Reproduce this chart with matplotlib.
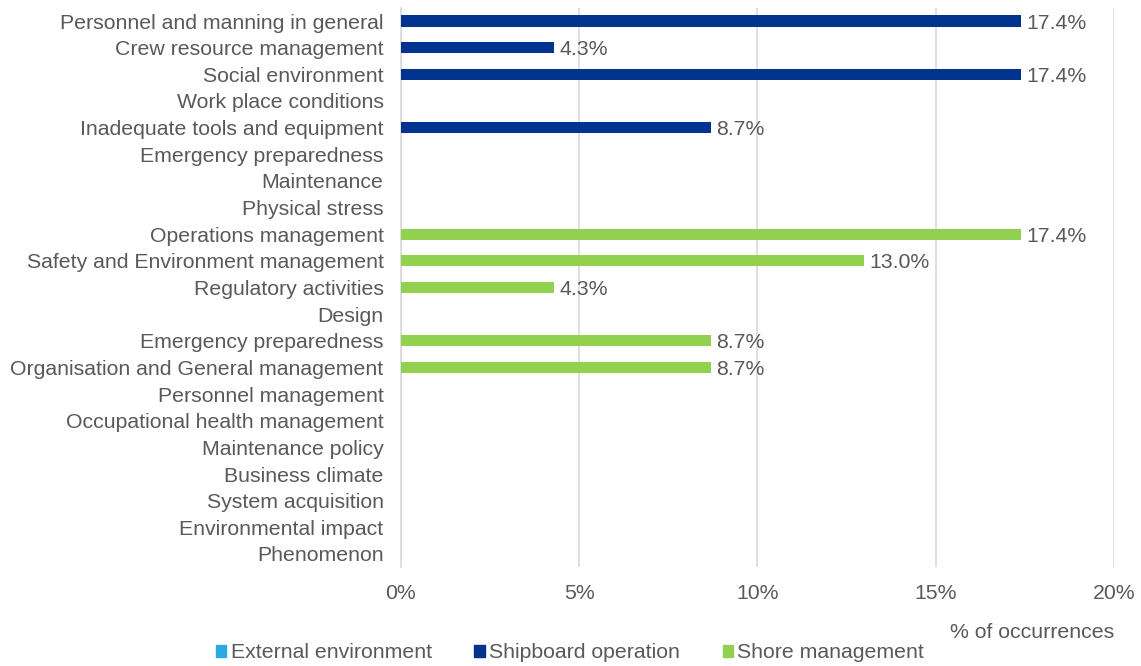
import numpy as np
from matplotlib import pyplot as plt
from matplotlib.patches import Patch

plt.rcParams['font.family'] = ['Liberation Sans', 'DejaVu Sans']

categories = ['Personnel and manning in general', 'Crew resource management',
              'Social environment', 'Work place conditions',
              'Inadequate tools and equipment', 'Emergency preparedness',
              'Maintenance', 'Physical stress', 'Operations management',
              'Safety and Environment management', 'Regulatory activities',
              'Design', 'Emergency preparedness',
              'Organisation and General management', 'Personnel management',
              'Occupational health management', 'Maintenance policy',
              'Business climate', 'System acquisition', 'Environmental impact',
              'Phenomenon']
external = [0] * 21
shipboard = [17.4, 4.3, 17.4, 0, 8.7, 0, 0, 0] + [0] * 13
shore = [0] * 8 + [17.4, 13.0, 4.3, 0, 8.7, 8.7, 0, 0, 0, 0, 0, 0, 0]
series = ['External environment', 'Shipboard operation', 'Shore management']
colors = ['#29ABE2', '#00338D', '#92D050']
txt = '#595959'
fs = 15.3

fig = plt.figure(figsize=(11.41, 6.66), dpi=100)
ax = fig.add_axes([0.3514, 0.1482, 0.6249, 0.8402])

y = np.arange(len(categories))
for vals, c in zip([external, shipboard, shore], colors):
    v = np.array(vals)
    ax.barh(y, v, height=0.42, color=c, zorder=3)
    for yi, vi in zip(y, v):
        if vi > 0:
            ax.text(vi + 0.15, yi + 0.08, f'{vi:.1f}%', va='center', ha='left',
                    fontsize=fs, color=txt)

ax.set_ylim(len(categories) - 0.5, -0.5)
ax.set_xlim(0, 20)
ax.set_yticks(y)
ax.set_yticklabels(categories, fontsize=fs, color=txt)
ax.set_xticks([0, 5, 10, 15, 20])
ax.set_xticklabels(['0%', '5%', '10%', '15%', '20%'], fontsize=fs, color=txt)
ax.tick_params(axis='both', length=0)
ax.tick_params(axis='x', pad=12)
ax.tick_params(axis='y', pad=12.5)
ax.grid(axis='x', color='#D9D9D9', linewidth=1.2, zorder=0)
for s in ['top', 'right', 'bottom']:
    ax.spines[s].set_visible(False)
ax.spines['left'].set_color('#D9D9D9')
ax.spines['left'].set_linewidth(1.2)

fig.text(1114 / 1141, 1 - 632 / 666, '% of occurrences', ha='right', va='center',
         fontsize=fs, color=txt)

handles = [Patch(color=c) for c in colors]
fig.legend(handles, series, loc='center', bbox_to_anchor=(570 / 1141, 1 - 653 / 666),
           ncol=3, frameon=False, fontsize=fs, labelcolor=txt,
           handlelength=0.5, handleheight=0.5, handletextpad=0.2, columnspacing=2.0)

fig.savefig('out.png', dpi=100)
